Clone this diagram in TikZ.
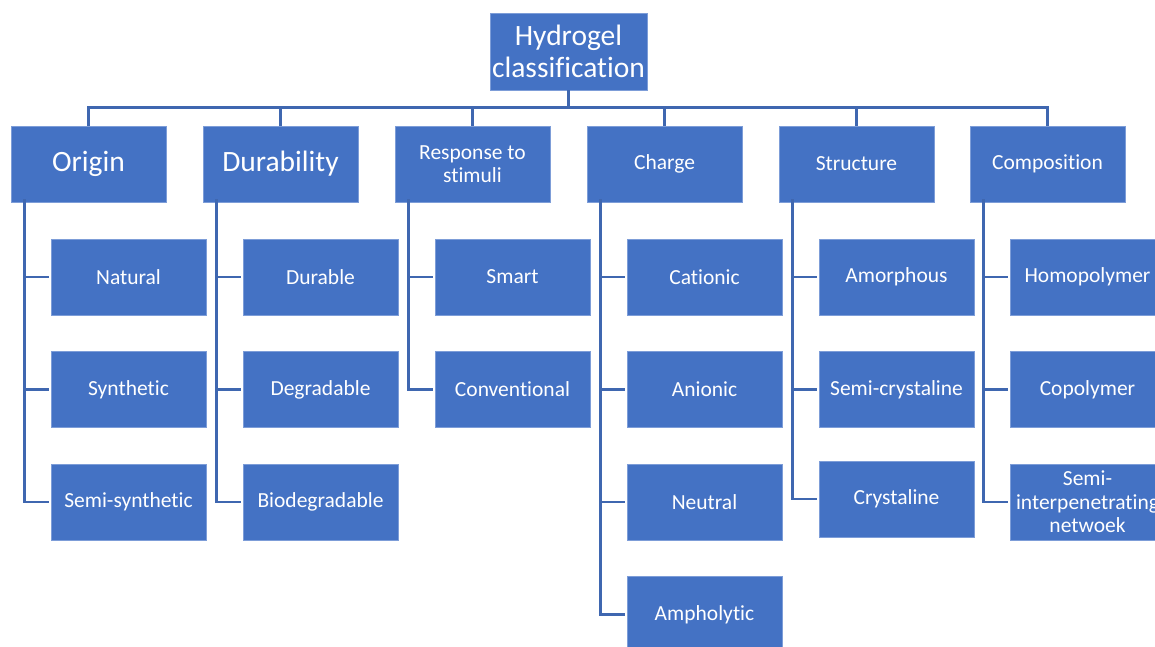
\documentclass[tikz,border=0pt]{standalone}
\usepackage{fontspec}
\setmainfont{Carlito}[Ligatures={NoCommon}]
\definecolor{boxblue}{HTML}{4472C4}
\definecolor{boxedge}{HTML}{7D9DD8}
\definecolor{linkblue}{HTML}{3F67B0}
\tikzset{
  box/.style={fill=boxblue,draw=boxedge,line width=0.8pt,text=white,minimum width=155pt,minimum height=76pt,inner sep=0pt,align=center},
  rootbox/.style={box,minimum width=157pt,minimum height=77pt,font=\fontsize{29.5}{32}\selectfont},
  catbig/.style={box,font=\fontsize{29.5}{32}\selectfont},
  cat/.style={box,font=\fontsize{21.5}{23}\selectfont},
  sub/.style={box,font=\fontsize{21.5}{23.5}\selectfont},
  conn/.style={draw=linkblue,line width=2.6pt},
  trunk/.style={draw=linkblue,line width=2.6pt}
}
\begin{document}
\begin{tikzpicture}[x=1pt,y=-1pt]
\useasboundingbox (0,0) rectangle (1155,647);
\node[rootbox] (root) at (568.5,51.5) {Hydrogel\\classification};
% level 1
\node[catbig] (origin) at (88.5,164) {Origin};
\node[catbig] (durab) at (280.5,164) {Durability};
\node[cat] (resp) at (472.5,164) {Response to\\stimuli};
\node[cat] (charge) at (664.5,164) {Charge};
\node[cat] (struct) at (856.5,164) {Structure};
\node[cat] (comp) at (1047.5,164) {Composition};
% level 2
\node[sub] (natural) at (128.5,277) {Natural};
\node[sub] (synth) at (128.5,389.5) {Synthetic};
\node[sub] (semisyn) at (128.5,502) {Semi-synthetic};
\node[sub] (durable) at (320.5,277) {Durable};
\node[sub] (degr) at (320.5,389.5) {Degradable};
\node[sub] (biodeg) at (320.5,502) {Biodegradable};
\node[sub] (smart) at (512.5,277) {Smart};
\node[sub] (conv) at (512.5,389.5) {Conventional};
\node[sub] (cation) at (704.5,277) {Cationic};
\node[sub] (anion) at (704.5,389.5) {Anionic};
\node[sub] (neutral) at (704.5,502) {Neutral};
\node[sub] (amph) at (704.5,614.5) {Ampholytic};
\node[sub] (amorph) at (896.5,277) {Amorphous};
\node[sub] (semicr) at (896.5,389.5) {Semi-crystaline};
\node[sub] (cryst) at (896.5,499) {Crystaline};
\node[sub] (homo) at (1087.5,277) {Homopolymer};
\node[sub] (copo) at (1087.5,389.5) {Copolymer};
\node[sub] (semiip) at (1087.5,502) {Semi-\\interpenetrating\\netwoek};
% root to categories
\foreach \c in {origin,durab,resp,charge,struct,comp}
  \draw[conn] (root.south) -- ++(0,17) -| (\c.north);
% trunks
\foreach \p/\c in {origin/natural,origin/synth,origin/semisyn,
                   durab/durable,durab/degr,durab/biodeg,
                   resp/smart,resp/conv,
                   charge/cation,charge/anion,charge/neutral,charge/amph,
                   struct/amorph,struct/semicr,struct/cryst,
                   comp/homo,comp/copo,comp/semiip}
  \draw[trunk] ([xshift=14pt,yshift=3pt]\p.south west) |- ([xshift=-2pt]\c.west);
\end{tikzpicture}
\end{document}
